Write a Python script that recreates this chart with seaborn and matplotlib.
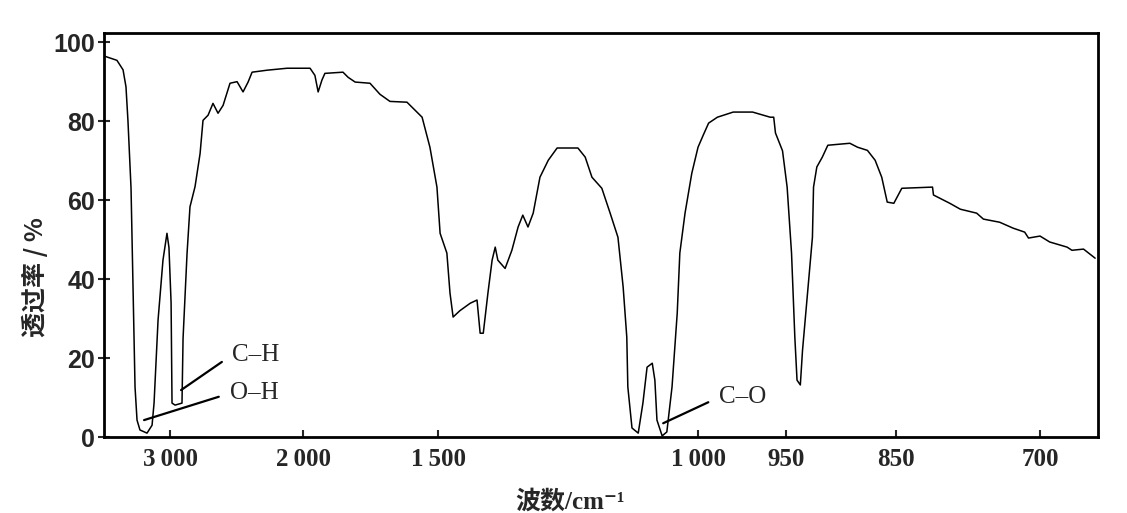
import numpy as np
import pandas as pd
import matplotlib
matplotlib.use("Agg")
import matplotlib.pyplot as plt
import seaborn as sns

# spectrum: wavenumber (cm-1) and transmittance (%)
wavenumber = [
    3496, 3399, 3353, 3331, 3316, 3293, 3278, 3263, 3248, 3226, 3173, 3135,
    3120, 3090, 3053, 3023, 3008, 2992, 2985, 2962, 2910, 2902, 2872, 2850,
    2812, 2774, 2752, 2714, 2677, 2639, 2601, 2549, 2496, 2451, 2413, 2383,
    2271, 2120, 1974, 1956, 1944, 1930, 1919, 1852, 1833, 1807, 1752, 1715,
    1678, 1615, 1559, 1530, 1504, 1496, 1483, 1477, 1471, 1458, 1438, 1425,
    1419, 1413, 1404, 1396, 1390, 1385, 1371, 1358, 1346, 1337, 1327, 1317,
    1304, 1288, 1271, 1231, 1217, 1204, 1185, 1169, 1154, 1144, 1137, 1135,
    1127, 1115, 1106, 1098, 1088, 1083, 1079, 1069, 1060, 1050, 1040, 1035,
    1025, 1012, 1000, 997, 994, 989, 980, 969, 959, 957, 956, 952, 949, 945,
    942, 940, 937, 935, 930, 926, 925, 922, 917, 912, 892, 885, 876, 869,
    863, 858, 852, 844, 812, 811, 794, 783, 766, 759, 742, 728, 716, 712,
    700, 690, 672, 667, 655, 643,
]
transmittance = [
    96.5, 95.4, 93.0, 88.7, 80.0, 63.0, 38.0, 12.7, 4.3, 1.8, 1.0, 3.0,
    8.6, 29.6, 44.8, 51.6, 48.0, 34.0, 8.6, 8.1, 8.6, 25.0, 46.5, 58.3,
    63.4, 71.8, 80.2, 81.5, 84.5, 82.0, 84.0, 89.6, 90.0, 87.4, 89.9, 92.4,
    92.9, 93.4, 93.4, 91.6, 87.4, 90.4, 92.1, 92.4, 91.1, 89.9, 89.6, 86.8,
    85.0, 84.8, 81.0, 73.4, 63.3, 51.6, 46.6, 36.5, 30.4, 32.0, 33.9, 34.7,
    26.3, 26.3, 36.5, 44.8, 48.1, 44.8, 42.7, 47.3, 53.2, 56.2, 53.2, 56.7,
    65.8, 70.1, 73.2, 73.2, 70.9, 65.8, 63.0, 56.7, 50.6, 38.0, 25.3, 12.7,
    2.3, 1.0, 8.6, 17.7, 18.7, 14.4, 4.3, 0.3, 1.3, 12.7, 31.4, 46.6,
    56.7, 66.8, 73.4, 76.5, 79.5, 81.0, 82.3, 82.3, 81.0, 81.0, 77.0, 72.5, 63.3, 46.6,
    25.3, 14.4, 13.2, 22.0, 38.0, 50.6, 63.3, 68.4, 70.9, 73.9, 74.4, 73.4, 72.6, 70.1,
    65.8, 59.5, 59.2, 63.0, 63.3, 61.3, 59.2, 57.7, 56.7, 55.2, 54.4, 52.9, 51.9, 50.4,
    50.9, 49.4, 48.1, 47.3, 47.6, 45.3,
]

x_ticks = [3000, 2000, 1500, 1000, 950, 850, 700]
x_tick_labels = ["3\u2009000", "2\u2009000", "1\u2009500", "1\u2009000", "950", "850", "700"]
y_ticks = [0, 20, 40, 60, 80, 100]

# the printed axis is not linear: piecewise mapping between tick marks
scale_wn = np.array([640, 700, 850, 950, 1000, 1500, 2000, 3000, 3496], dtype=float)
scale_pos = np.array([0, 58, 202, 312, 400, 660, 795, 928, 994], dtype=float) / 994


def forward(w):
    return np.interp(np.asarray(w, dtype=float), scale_wn, scale_pos)


def inverse(p):
    return np.interp(np.asarray(p, dtype=float), scale_pos, scale_wn)


sns.set_style("ticks")
plt.rcParams["font.family"] = ["Liberation Sans", "DejaVu Sans"]

df = pd.DataFrame({"wn": wavenumber, "T": transmittance})

fig = plt.figure(figsize=(11.27, 5.13), dpi=100)
ax = fig.add_axes([0.0923, 0.148, 0.882, 0.7875])
ax.set_xscale("function", functions=(forward, inverse))

sns.lineplot(data=df, x="wn", y="T", ax=ax, color="black", linewidth=1.1)

ax.set_xlim(3496, 640)
ax.set_ylim(0, 102.3)
ax.set_xticks(x_ticks)
ax.set_xticklabels(x_tick_labels, family="Liberation Serif", fontsize=18, weight="bold")
ax.set_yticks(y_ticks)
ax.set_yticklabels([str(v) for v in y_ticks], fontsize=18, weight="bold")
ax.tick_params(axis="x", direction="in", length=5, width=1.5, pad=8)
ax.tick_params(axis="y", direction="inout", length=9, width=1.5, pad=2)
for s in ax.spines.values():
    s.set_linewidth(2)
    s.set_color("black")

ax.set_xlabel("波数/cm⁻¹", family=["Liberation Serif", "Noto Sans CJK SC", "DejaVu Serif"],
              fontsize=18, weight="bold")
ax.xaxis.set_label_coords(0.469, -0.131)
ax.set_ylabel("透过率 / %", family=["Noto Sans CJK SC", "DejaVu Sans"], fontsize=18, weight="bold")
ax.yaxis.set_label_coords(-0.056, 0.396)

# peak labels
notes = [("C–H", (2917, 11.9), (2534, 20.8)),
         ("O–H", (3195, 4.3), (2549, 11.1)),
         ("C–O", (1067, 3.5), (988, 10.1))]
for txt, xy, xytext in notes:
    ax.annotate(txt, xy=xy, xytext=xytext, ha="left", va="center",
                family="Liberation Serif", fontsize=18,
                arrowprops=dict(arrowstyle="-", color="black", lw=1.6,
                                relpos=(0, 0.5), shrinkA=6, shrinkB=0))

fig.savefig("out.png", dpi=100)
